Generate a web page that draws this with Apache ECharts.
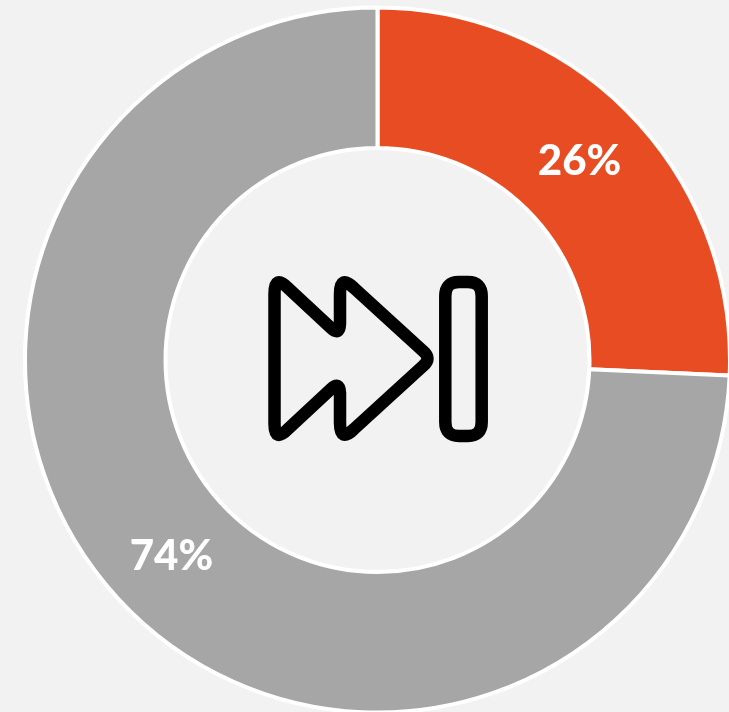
<!DOCTYPE html>
<html><head><meta charset="utf-8">
<style>html,body{margin:0;padding:0;background:#f2f2f2}#c{width:729px;height:712px}</style>
<script src="https://cdn.jsdelivr.net/npm/echarts@6/dist/echarts.min.js"></script>
</head><body><div id="c"></div>
<script>
const categories = ['Share A', 'Share B'];
const values = [25.7, 74.3];
const colors = ['#e84c22', '#a6a6a6'];
const chart = echarts.init(document.getElementById('c'), null, {renderer:'canvas'});
const iconPath = 'M274.5 424 L274.5 294 Q274.5 274 288 288 L331 328 Q339.5 336 340 324 L340 294 Q340 274 354 288 L423 351 Q432 358.5 423 366 L354 429 Q340 443 340 423 L340 393 Q339.5 381 331 389 L288 429 Q274.5 443 274.5 424 Z M445.3 296 Q445.3 282 459 282 L468 282 Q481.7 282 481.7 296 L481.7 422 Q481.7 436 468 436 L459 436 Q445.3 436 445.3 422 Z';
chart.setOption({
  backgroundColor:'#f2f2f2',
  animation:false,
  series:[{
    type:'pie',
    center:[377.5,360],
    radius:[212,352.5],
    startAngle:90,
    clockwise:true,
    silent:true,
    data:categories.map((n,i)=>({name:n,value:values[i],itemStyle:{color:colors[i]}})),
    itemStyle:{borderColor:'#fff',borderWidth:4},
    label:{show:true,position:'inside',formatter:p=>Math.round(p.value)+'%',color:'#fff',fontFamily:'Lato',fontWeight:900,fontSize:42},
    labelLayout:p=>p.dataIndex===0?{dx:-4,dy:-1}:{dx:0,dy:-1},
    labelLine:{show:false}
  },{
    type:'custom',
    coordinateSystem:'none',
    silent:true,
    data:[[0]],
    z:5,
    renderItem:()=>({type:'path',shape:{pathData:iconPath,layout:'cover',x:274.5,y:282,width:207.2,height:154},
      style:{fill:'none',stroke:'#000',lineWidth:12.5,lineJoin:'round'}})
  }]
});
</script></body></html>
